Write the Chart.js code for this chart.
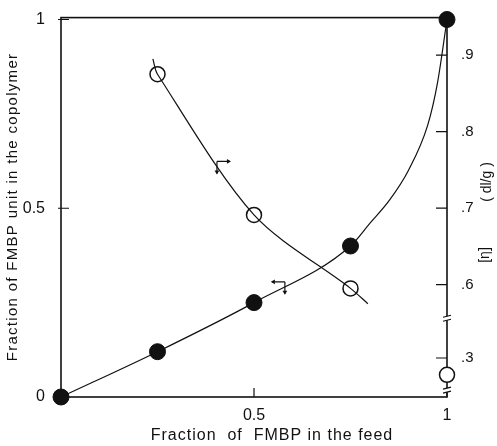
<!DOCTYPE html>
<html>
<head>
<meta charset="utf-8">
<script src="https://cdn.jsdelivr.net/npm/chart.js@4.4.0/dist/chart.umd.min.js"></script>
<style>
  html, body { margin: 0; padding: 0; background: #fff; }
  #wrap { width: 497px; height: 446px; }
</style>
</head>
<body>
<div id="wrap"><canvas id="chart" width="497" height="446"></canvas></div>
<script>
// copolymer composition vs feed (filled circles, left axis)
const feedFilled = [0, 0.25, 0.5, 0.75, 1];
const copolymer = [0, 0.12, 0.25, 0.40, 1];
// the drawn curve, read along its path
const curveFeed = [0, 0.25, 0.5, 0.75, 0.8, 0.85, 0.9, 0.95, 0.975, 1];
const curveCopolymer = [0, 0.12, 0.25, 0.40, 0.46, 0.52, 0.60, 0.72, 0.83, 1];

// intrinsic viscosity (open circles, right axis, dl/g)
const feedOpen = [0.25, 0.5, 0.75, 1];
const viscosity = [0.875, 0.691, 0.595, 0.278];
const viscLineFeed = [0.238, 0.25, 0.5, 0.75, 0.795];
const viscLine = [0.895, 0.875, 0.691, 0.595, 0.575];

const leftTicks = [0, 0.5, 1];
const leftLabels = ['0', '0.5', '1'];
const bottomTicks = [0.5, 1];
const bottomLabels = ['0.5', '1'];
const rightTicks = [0.3, 0.6, 0.7, 0.8, 0.9];
const rightLabels = ['.3', '.6', '.7', '.8', '.9'];

// right axis is broken between .6 and .3
const breakBelow = 0.45;
const breakShift = 0.204;
const axisBreaks = [0.556, 0.462];

// little arrows telling which axis a curve belongs to
const arrowFeed = [0.404, 0.58];
const arrowValue = [0.761, 0.305];
const arrowAxis = ['yRight', 'yLeft'];
const arrowDir = [1, -1];

const FONT = '"Liberation Sans", Arial, sans-serif';

function toAxis(v) {
  return v < breakBelow ? v + breakShift : v;
}

function pts(xs, ys, map) {
  return xs.map((x, i) => ({ x: x, y: map ? map(ys[i]) : ys[i] }));
}

function arrowHead(ctx, x, y, dx, dy) {
  const s = 4;
  ctx.beginPath();
  ctx.moveTo(x, y);
  ctx.lineTo(x - dx * s - dy * s * 0.6, y - dy * s - dx * s * 0.6);
  ctx.lineTo(x - dx * s + dy * s * 0.6, y - dy * s + dx * s * 0.6);
  ctx.closePath();
  ctx.fill();
}

const decor = {
  id: 'decor',
  beforeDatasetsDraw(chart) {
    const { ctx, chartArea: a, scales } = chart;
    const x = scales.x, yl = scales.yLeft, yr = scales.yRight;
    ctx.save();
    ctx.strokeStyle = '#111';
    ctx.lineWidth = 1.6;
    ctx.strokeRect(a.left, a.top, a.right - a.left, a.bottom - a.top);

    ctx.lineWidth = 1.2;
    ctx.beginPath();
    yl.ticks.forEach(t => {
      const py = yl.getPixelForValue(t.value);
      ctx.moveTo(a.left - 3, py);
      ctx.lineTo(a.left + 8, py);
    });
    x.ticks.forEach(t => {
      const px = x.getPixelForValue(t.value);
      ctx.moveTo(px, a.bottom);
      ctx.lineTo(px, a.bottom - 9);
    });
    yr.ticks.forEach(t => {
      const py = yr.getPixelForValue(t.value);
      ctx.moveTo(a.right - 11, py);
      ctx.lineTo(a.right, py);
    });
    ctx.stroke();

    axisBreaks.forEach(v => {
      const py = yr.getPixelForValue(v);
      ctx.fillStyle = '#fff';
      ctx.fillRect(a.right - 2, py - 2, 4, 4);
      ctx.beginPath();
      ctx.moveTo(a.right - 4, py - 1);
      ctx.lineTo(a.right + 4, py - 3);
      ctx.moveTo(a.right - 4, py + 3);
      ctx.lineTo(a.right + 4, py + 1);
      ctx.stroke();
    });
    ctx.restore();
  },
  afterDraw(chart) {
    const { ctx, scales } = chart;
    ctx.save();
    ctx.strokeStyle = '#111';
    ctx.fillStyle = '#111';
    ctx.lineWidth = 1.2;
    arrowFeed.forEach((f, i) => {
      const px = scales.x.getPixelForValue(f);
      const py = scales[arrowAxis[i]].getPixelForValue(arrowValue[i]);
      const d = arrowDir[i];
      ctx.beginPath();
      ctx.moveTo(px, py);
      ctx.lineTo(px + d * 13, py);
      ctx.moveTo(px, py);
      ctx.lineTo(px, py + 12);
      ctx.stroke();
      arrowHead(ctx, px + d * 14, py, d, 0);
      arrowHead(ctx, px, py + 13, 0, 1);
    });

    ctx.fillStyle = '#111';
    ctx.textBaseline = 'middle';
    ctx.textAlign = 'center';
    ctx.font = '16px ' + FONT;
    ctx.letterSpacing = '1px';
    ctx.fillText('Fraction  of  FMBP in the feed', 272, 436);

    ctx.save();
    ctx.translate(13, 207);
    ctx.rotate(-Math.PI / 2);
    ctx.font = '15px ' + FONT;
    ctx.letterSpacing = '1.3px';
    ctx.fillText('Fraction of FMBP unit in the copolymer', 0, 0);
    ctx.restore();

    ctx.save();
    ctx.translate(485, 218);
    ctx.rotate(-Math.PI / 2);
    ctx.letterSpacing = '0px';
    ctx.font = '14px ' + FONT;
    ctx.fillText('[η]', -37, 0);
    ctx.fillText('( dl/g )', 36, 2);
    ctx.restore();
    ctx.restore();
  }
};

new Chart(document.getElementById('chart'), {
  type: 'scatter',
  data: {
    datasets: [
      {
        type: 'line',
        data: pts(curveFeed, curveCopolymer),
        yAxisID: 'yLeft',
        borderColor: '#111',
        borderWidth: 1.2,
        pointRadius: 0,
        cubicInterpolationMode: 'monotone',
        fill: false,
        clip: false
      },
      {
        type: 'line',
        data: pts(viscLineFeed, viscLine),
        yAxisID: 'yRight',
        borderColor: '#111',
        borderWidth: 1.2,
        pointRadius: 0,
        tension: 0.3,
        fill: false,
        clip: false
      },
      {
        data: pts(feedFilled, copolymer),
        yAxisID: 'yLeft',
        pointRadius: 8,
        pointBackgroundColor: '#111',
        pointBorderColor: '#111',
        pointBorderWidth: 1,
        clip: false
      },
      {
        data: pts(feedOpen, viscosity, toAxis),
        yAxisID: 'yRight',
        pointRadius: 7.5,
        pointBackgroundColor: '#fff',
        pointBorderColor: '#111',
        pointBorderWidth: 1.5,
        clip: false
      }
    ]
  },
  options: {
    responsive: false,
    animation: false,
    layout: { padding: { top: 15, left: 0, right: 0, bottom: 0 } },
    plugins: {
      legend: { display: false },
      tooltip: { enabled: false }
    },
    scales: {
      x: {
        type: 'linear',
        min: 0,
        max: 1,
        grid: { display: false },
        border: { display: false },
        afterBuildTicks: s => { s.ticks = bottomTicks.map(v => ({ value: v })); },
        afterFit: s => { s.height = 49; },
        ticks: {
          padding: 1,
          color: '#111',
          font: { family: FONT, size: 16 },
          maxRotation: 0,
          callback: (v, i) => bottomLabels[i]
        }
      },
      yLeft: {
        type: 'linear',
        position: 'left',
        min: 0,
        max: 1.005,
        grid: { display: false },
        border: { display: false },
        afterBuildTicks: s => { s.ticks = leftTicks.map(v => ({ value: v })); },
        afterFit: s => { s.width = 61; },
        ticks: {
          padding: 8,
          color: '#111',
          font: { family: FONT, size: 16 },
          callback: (v, i) => leftLabels[i]
        }
      },
      yRight: {
        type: 'linear',
        position: 'right',
        min: 0.453,
        max: 0.949,
        grid: { display: false },
        border: { display: false },
        afterBuildTicks: s => { s.ticks = rightTicks.map(v => ({ value: toAxis(v) })); },
        afterFit: s => { s.width = 50; },
        ticks: {
          padding: 6,
          color: '#111',
          font: { family: FONT, size: 15 },
          callback: (v, i) => rightLabels[i]
        }
      }
    }
  },
  plugins: [decor]
});
</script>
</body>
</html>
